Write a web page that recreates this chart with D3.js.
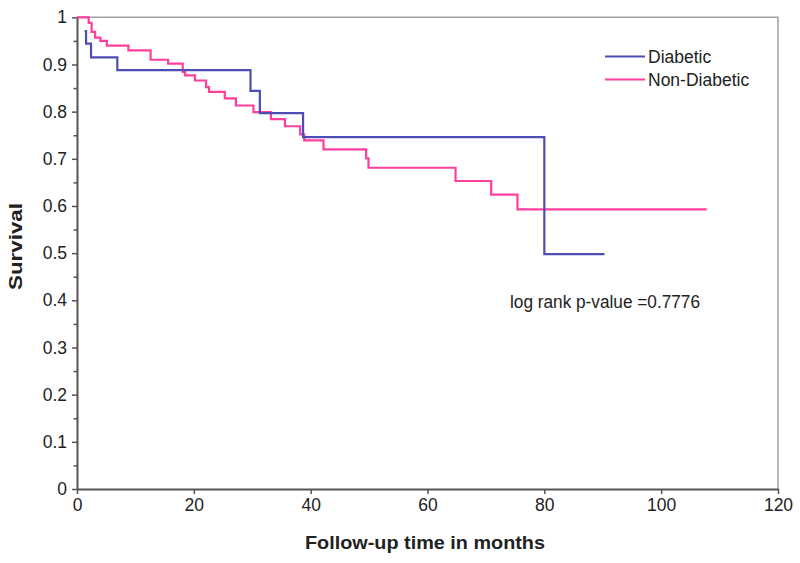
<!DOCTYPE html>
<html>
<head>
<meta charset="utf-8">
<script src="https://cdn.jsdelivr.net/npm/d3@7"></script>
<style>
  html, body { margin: 0; padding: 0; background: #fff; }
  svg { display: block; font-family: "Liberation Sans", Arial, sans-serif; }
</style>
</head>
<body>
<svg id="chart" width="800" height="563"></svg>
<script>
// ---- data (time in months, survival after the step) ----
const diabeticTime  = [1.3, 1.55, 2.4, 6.9, 29.7, 31.3, 38.7, 80.0, 90.3];
const diabeticSurv  = [0.971, 0.944, 0.915, 0.888, 0.844, 0.797, 0.746, 0.498, 0.498];

const nonDiabeticTime = [0, 2.0, 2.5, 3.1, 4.0, 5.1, 8.8, 12.6, 15.6, 18.1, 18.5, 20.2, 22.1, 22.6, 25.3, 27.2, 30.2, 33.2, 35.6, 38.2, 38.9, 42.2, 49.5, 49.9, 64.8, 70.9, 75.4, 107.8];
const nonDiabeticSurv = [1.0, 0.988, 0.969, 0.957, 0.950, 0.940, 0.930, 0.910, 0.902, 0.884, 0.877, 0.866, 0.852, 0.842, 0.828, 0.813, 0.799, 0.784, 0.769, 0.752, 0.739, 0.720, 0.701, 0.681, 0.653, 0.624, 0.593, 0.593];

const seriesNames = ["Diabetic", "Non-Diabetic"];
const xTicks = [0, 20, 40, 60, 80, 100, 120];
const yTicks = [0, 0.1, 0.2, 0.3, 0.4, 0.5, 0.6, 0.7, 0.8, 0.9, 1];
const yMinorTicks = [0.05, 0.15, 0.25, 0.35, 0.45, 0.55, 0.65, 0.75, 0.85, 0.95];
const xTitle = "Follow-up time in months";
const yTitle = "Survival";
const pValueText = "log rank p-value =0.7776";

// ---- layout ----
const L = 77, R = 778, T = 17.3, B = 489;
const colors = ["#4d4db3", "#ff3f9c"];

const svg = d3.select("#chart");
const x = d3.scaleLinear().domain([0, 120]).range([L, R]);
const y = d3.scaleLinear().domain([0, 1]).range([B, T]);

// frame (top + right)
svg.append("path")
  .attr("d", `M${L},${T}H${R}V${B}`)
  .attr("fill", "none").attr("stroke", "#a0a0a0").attr("stroke-width", 1.5);

// y minor ticks
svg.append("g").attr("transform", `translate(${L},0)`)
  .call(d3.axisLeft(y).tickValues(yMinorTicks).tickSize(3.5).tickFormat(""))
  .call(g => g.select(".domain").remove())
  .call(g => g.selectAll("line").attr("stroke", "#555").attr("stroke-width", 1.5));

// y axis
const yAxis = svg.append("g").attr("transform", `translate(${L},0)`)
  .call(d3.axisLeft(y).tickValues(yTicks).tickSize(5).tickSizeOuter(0)
    .tickFormat(d => (d === 0 || d === 1) ? String(d) : d.toFixed(1)));
yAxis.select(".domain").attr("stroke", "#555").attr("stroke-width", 2);
yAxis.selectAll("line").attr("stroke", "#555").attr("stroke-width", 1.5);
yAxis.selectAll("text").attr("font-size", 17.5).attr("fill", "#222")
  .attr("font-family", "'Liberation Sans', Arial, sans-serif").attr("x", -10);

// x axis
const xAxis = svg.append("g").attr("transform", `translate(0,${B})`)
  .call(d3.axisBottom(x).tickValues(xTicks).tickSize(5).tickSizeOuter(0).tickFormat(d3.format("d")));
xAxis.select(".domain").attr("stroke", "#555").attr("stroke-width", 2);
xAxis.selectAll("line").attr("stroke", "#555").attr("stroke-width", 1.5);
xAxis.selectAll("text").attr("font-size", 17.5).attr("fill", "#222")
  .attr("font-family", "'Liberation Sans', Arial, sans-serif").attr("y", 10);

// step curves
const line = d3.line().x(d => x(d[0])).y(d => y(d[1])).curve(d3.curveStepAfter);
const diab = diabeticTime.map((t, i) => [t, diabeticSurv[i]]);
const nondiab = nonDiabeticTime.map((t, i) => [t, nonDiabeticSurv[i]]);

svg.append("path").datum(nondiab).attr("d", line)
  .attr("fill", "none").attr("stroke", colors[1]).attr("stroke-width", 2.2);
svg.append("path").datum(diab).attr("d", line)
  .attr("fill", "none").attr("stroke", colors[0]).attr("stroke-width", 2.2);

// legend
const legend = svg.append("g");
seriesNames.forEach((name, i) => {
  const ly = 56.5 + i * 23;
  legend.append("line").attr("x1", 605).attr("x2", 645).attr("y1", ly).attr("y2", ly)
    .attr("stroke", colors[i]).attr("stroke-width", 2.2);
  legend.append("text").attr("x", 648).attr("y", ly).attr("dy", "0.35em")
    .attr("font-size", 17.5).attr("fill", "#222").text(name);
});

// p-value annotation
svg.append("text").attr("x", 510).attr("y", 302).attr("dy", "0.35em")
  .attr("font-size", 17.5).attr("fill", "#222")
  .attr("textLength", 190).attr("lengthAdjust", "spacingAndGlyphs").text(pValueText);

// axis titles
svg.append("text").attr("x", 305).attr("y", 543).attr("dy", "0.35em")
  .attr("font-size", 18).attr("font-weight", "bold")
  .attr("textLength", 240).attr("lengthAdjust", "spacingAndGlyphs")
  .attr("fill", "#222").text(xTitle);
svg.append("text").attr("transform", "translate(16,290) rotate(-90)")
  .attr("dy", "0.35em").attr("font-size", 18)
  .attr("textLength", 87).attr("lengthAdjust", "spacingAndGlyphs")
  .attr("font-weight", "bold").attr("fill", "#222").text(yTitle);
</script>
</body>
</html>
